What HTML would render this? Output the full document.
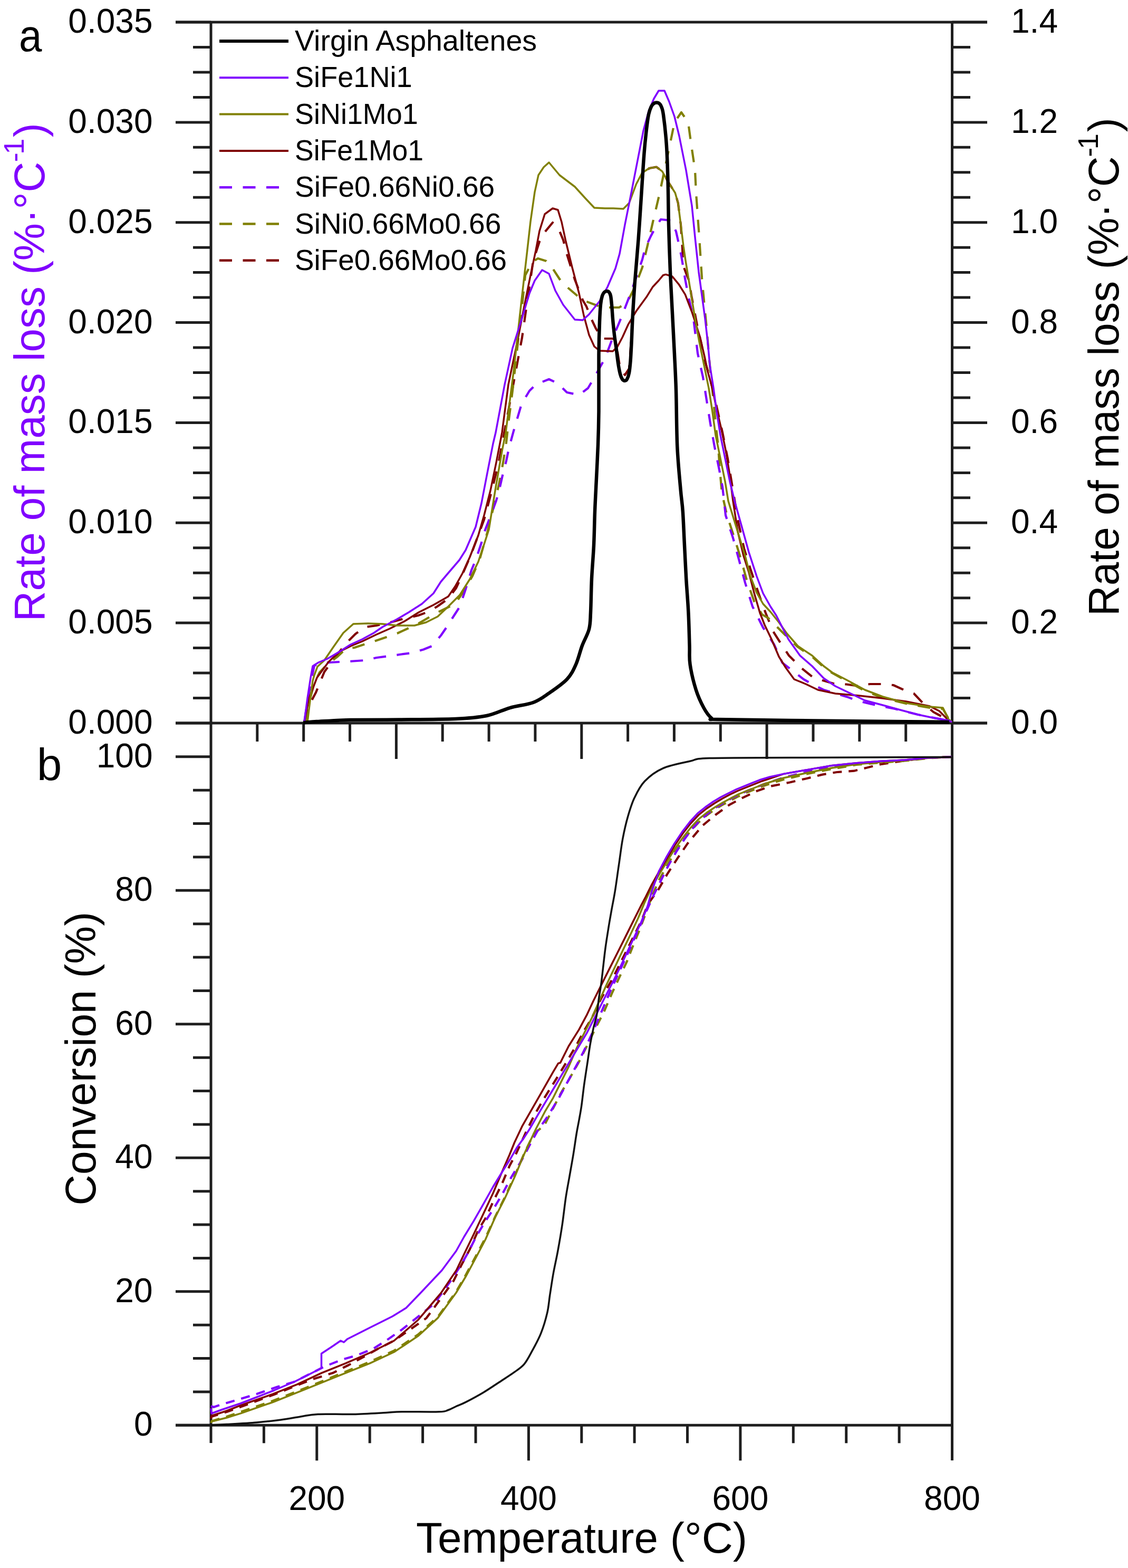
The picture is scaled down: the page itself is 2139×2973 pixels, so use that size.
<!DOCTYPE html>
<html><head><meta charset="utf-8"><title>Figure</title>
<style>html,body{margin:0;padding:0;background:#fff;}svg{display:block;filter:blur(0.6px);}</style></head>
<body>
<svg width="2139" height="2973" viewBox="0 0 2139 2973" font-family='"Liberation Sans", Arial, sans-serif'><line x1="400.0" y1="42.0" x2="400.0" y2="2736.0" stroke="#1e1e1e" stroke-width="5"/>
<line x1="1805.5" y1="42.0" x2="1805.5" y2="2769.0" stroke="#1e1e1e" stroke-width="5"/>
<line x1="333.0" y1="42.0" x2="1872.0" y2="42.0" stroke="#1e1e1e" stroke-width="5"/>
<line x1="333.0" y1="1371.0" x2="1872.0" y2="1371.0" stroke="#1e1e1e" stroke-width="5"/>
<line x1="333.0" y1="2702.3" x2="1805.5" y2="2702.3" stroke="#1e1e1e" stroke-width="5"/>
<line x1="333.0" y1="42.0" x2="400.0" y2="42.0" stroke="#1e1e1e" stroke-width="5"/>
<line x1="1805.5" y1="42.0" x2="1872.0" y2="42.0" stroke="#1e1e1e" stroke-width="5"/>
<line x1="366.0" y1="89.5" x2="400.0" y2="89.5" stroke="#1e1e1e" stroke-width="5"/>
<line x1="1805.5" y1="89.5" x2="1840.0" y2="89.5" stroke="#1e1e1e" stroke-width="5"/>
<line x1="366.0" y1="136.9" x2="400.0" y2="136.9" stroke="#1e1e1e" stroke-width="5"/>
<line x1="1805.5" y1="136.9" x2="1840.0" y2="136.9" stroke="#1e1e1e" stroke-width="5"/>
<line x1="366.0" y1="184.4" x2="400.0" y2="184.4" stroke="#1e1e1e" stroke-width="5"/>
<line x1="1805.5" y1="184.4" x2="1840.0" y2="184.4" stroke="#1e1e1e" stroke-width="5"/>
<line x1="333.0" y1="231.9" x2="400.0" y2="231.9" stroke="#1e1e1e" stroke-width="5"/>
<line x1="1805.5" y1="231.9" x2="1872.0" y2="231.9" stroke="#1e1e1e" stroke-width="5"/>
<line x1="366.0" y1="279.3" x2="400.0" y2="279.3" stroke="#1e1e1e" stroke-width="5"/>
<line x1="1805.5" y1="279.3" x2="1840.0" y2="279.3" stroke="#1e1e1e" stroke-width="5"/>
<line x1="366.0" y1="326.8" x2="400.0" y2="326.8" stroke="#1e1e1e" stroke-width="5"/>
<line x1="1805.5" y1="326.8" x2="1840.0" y2="326.8" stroke="#1e1e1e" stroke-width="5"/>
<line x1="366.0" y1="374.2" x2="400.0" y2="374.2" stroke="#1e1e1e" stroke-width="5"/>
<line x1="1805.5" y1="374.2" x2="1840.0" y2="374.2" stroke="#1e1e1e" stroke-width="5"/>
<line x1="333.0" y1="421.7" x2="400.0" y2="421.7" stroke="#1e1e1e" stroke-width="5"/>
<line x1="1805.5" y1="421.7" x2="1872.0" y2="421.7" stroke="#1e1e1e" stroke-width="5"/>
<line x1="366.0" y1="469.2" x2="400.0" y2="469.2" stroke="#1e1e1e" stroke-width="5"/>
<line x1="1805.5" y1="469.2" x2="1840.0" y2="469.2" stroke="#1e1e1e" stroke-width="5"/>
<line x1="366.0" y1="516.6" x2="400.0" y2="516.6" stroke="#1e1e1e" stroke-width="5"/>
<line x1="1805.5" y1="516.6" x2="1840.0" y2="516.6" stroke="#1e1e1e" stroke-width="5"/>
<line x1="366.0" y1="564.1" x2="400.0" y2="564.1" stroke="#1e1e1e" stroke-width="5"/>
<line x1="1805.5" y1="564.1" x2="1840.0" y2="564.1" stroke="#1e1e1e" stroke-width="5"/>
<line x1="333.0" y1="611.6" x2="400.0" y2="611.6" stroke="#1e1e1e" stroke-width="5"/>
<line x1="1805.5" y1="611.6" x2="1872.0" y2="611.6" stroke="#1e1e1e" stroke-width="5"/>
<line x1="366.0" y1="659.0" x2="400.0" y2="659.0" stroke="#1e1e1e" stroke-width="5"/>
<line x1="1805.5" y1="659.0" x2="1840.0" y2="659.0" stroke="#1e1e1e" stroke-width="5"/>
<line x1="366.0" y1="706.5" x2="400.0" y2="706.5" stroke="#1e1e1e" stroke-width="5"/>
<line x1="1805.5" y1="706.5" x2="1840.0" y2="706.5" stroke="#1e1e1e" stroke-width="5"/>
<line x1="366.0" y1="754.0" x2="400.0" y2="754.0" stroke="#1e1e1e" stroke-width="5"/>
<line x1="1805.5" y1="754.0" x2="1840.0" y2="754.0" stroke="#1e1e1e" stroke-width="5"/>
<line x1="333.0" y1="801.4" x2="400.0" y2="801.4" stroke="#1e1e1e" stroke-width="5"/>
<line x1="1805.5" y1="801.4" x2="1872.0" y2="801.4" stroke="#1e1e1e" stroke-width="5"/>
<line x1="366.0" y1="848.9" x2="400.0" y2="848.9" stroke="#1e1e1e" stroke-width="5"/>
<line x1="1805.5" y1="848.9" x2="1840.0" y2="848.9" stroke="#1e1e1e" stroke-width="5"/>
<line x1="366.0" y1="896.4" x2="400.0" y2="896.4" stroke="#1e1e1e" stroke-width="5"/>
<line x1="1805.5" y1="896.4" x2="1840.0" y2="896.4" stroke="#1e1e1e" stroke-width="5"/>
<line x1="366.0" y1="943.8" x2="400.0" y2="943.8" stroke="#1e1e1e" stroke-width="5"/>
<line x1="1805.5" y1="943.8" x2="1840.0" y2="943.8" stroke="#1e1e1e" stroke-width="5"/>
<line x1="333.0" y1="991.3" x2="400.0" y2="991.3" stroke="#1e1e1e" stroke-width="5"/>
<line x1="1805.5" y1="991.3" x2="1872.0" y2="991.3" stroke="#1e1e1e" stroke-width="5"/>
<line x1="366.0" y1="1038.8" x2="400.0" y2="1038.8" stroke="#1e1e1e" stroke-width="5"/>
<line x1="1805.5" y1="1038.8" x2="1840.0" y2="1038.8" stroke="#1e1e1e" stroke-width="5"/>
<line x1="366.0" y1="1086.2" x2="400.0" y2="1086.2" stroke="#1e1e1e" stroke-width="5"/>
<line x1="1805.5" y1="1086.2" x2="1840.0" y2="1086.2" stroke="#1e1e1e" stroke-width="5"/>
<line x1="366.0" y1="1133.7" x2="400.0" y2="1133.7" stroke="#1e1e1e" stroke-width="5"/>
<line x1="1805.5" y1="1133.7" x2="1840.0" y2="1133.7" stroke="#1e1e1e" stroke-width="5"/>
<line x1="333.0" y1="1181.1" x2="400.0" y2="1181.1" stroke="#1e1e1e" stroke-width="5"/>
<line x1="1805.5" y1="1181.1" x2="1872.0" y2="1181.1" stroke="#1e1e1e" stroke-width="5"/>
<line x1="366.0" y1="1228.6" x2="400.0" y2="1228.6" stroke="#1e1e1e" stroke-width="5"/>
<line x1="1805.5" y1="1228.6" x2="1840.0" y2="1228.6" stroke="#1e1e1e" stroke-width="5"/>
<line x1="366.0" y1="1276.1" x2="400.0" y2="1276.1" stroke="#1e1e1e" stroke-width="5"/>
<line x1="1805.5" y1="1276.1" x2="1840.0" y2="1276.1" stroke="#1e1e1e" stroke-width="5"/>
<line x1="366.0" y1="1323.5" x2="400.0" y2="1323.5" stroke="#1e1e1e" stroke-width="5"/>
<line x1="1805.5" y1="1323.5" x2="1840.0" y2="1323.5" stroke="#1e1e1e" stroke-width="5"/>
<line x1="333.0" y1="1371.0" x2="400.0" y2="1371.0" stroke="#1e1e1e" stroke-width="5"/>
<line x1="1805.5" y1="1371.0" x2="1872.0" y2="1371.0" stroke="#1e1e1e" stroke-width="5"/>
<text x="289.5" y="62.0" text-anchor="end" font-size="64" fill="#000" >0.035</text>
<text x="1917.0" y="62.0" text-anchor="start" font-size="64" fill="#000" >1.4</text>
<text x="289.5" y="251.9" text-anchor="end" font-size="64" fill="#000" >0.030</text>
<text x="1917.0" y="251.9" text-anchor="start" font-size="64" fill="#000" >1.2</text>
<text x="289.5" y="441.7" text-anchor="end" font-size="64" fill="#000" >0.025</text>
<text x="1917.0" y="441.7" text-anchor="start" font-size="64" fill="#000" >1.0</text>
<text x="289.5" y="631.6" text-anchor="end" font-size="64" fill="#000" >0.020</text>
<text x="1917.0" y="631.6" text-anchor="start" font-size="64" fill="#000" >0.8</text>
<text x="289.5" y="821.4" text-anchor="end" font-size="64" fill="#000" >0.015</text>
<text x="1917.0" y="821.4" text-anchor="start" font-size="64" fill="#000" >0.6</text>
<text x="289.5" y="1011.3" text-anchor="end" font-size="64" fill="#000" >0.010</text>
<text x="1917.0" y="1011.3" text-anchor="start" font-size="64" fill="#000" >0.4</text>
<text x="289.5" y="1201.1" text-anchor="end" font-size="64" fill="#000" >0.005</text>
<text x="1917.0" y="1201.1" text-anchor="start" font-size="64" fill="#000" >0.2</text>
<text x="289.5" y="1391.0" text-anchor="end" font-size="64" fill="#000" >0.000</text>
<text x="1917.0" y="1391.0" text-anchor="start" font-size="64" fill="#000" >0.0</text>
<line x1="487.8" y1="1371.0" x2="487.8" y2="1406.0" stroke="#1e1e1e" stroke-width="5"/>
<line x1="575.7" y1="1371.0" x2="575.7" y2="1406.0" stroke="#1e1e1e" stroke-width="5"/>
<line x1="663.5" y1="1371.0" x2="663.5" y2="1406.0" stroke="#1e1e1e" stroke-width="5"/>
<line x1="751.4" y1="1371.0" x2="751.4" y2="1439.0" stroke="#1e1e1e" stroke-width="5"/>
<line x1="839.2" y1="1371.0" x2="839.2" y2="1406.0" stroke="#1e1e1e" stroke-width="5"/>
<line x1="927.1" y1="1371.0" x2="927.1" y2="1406.0" stroke="#1e1e1e" stroke-width="5"/>
<line x1="1014.9" y1="1371.0" x2="1014.9" y2="1406.0" stroke="#1e1e1e" stroke-width="5"/>
<line x1="1102.8" y1="1371.0" x2="1102.8" y2="1439.0" stroke="#1e1e1e" stroke-width="5"/>
<line x1="1190.6" y1="1371.0" x2="1190.6" y2="1406.0" stroke="#1e1e1e" stroke-width="5"/>
<line x1="1278.4" y1="1371.0" x2="1278.4" y2="1406.0" stroke="#1e1e1e" stroke-width="5"/>
<line x1="1366.3" y1="1371.0" x2="1366.3" y2="1406.0" stroke="#1e1e1e" stroke-width="5"/>
<line x1="1454.1" y1="1371.0" x2="1454.1" y2="1439.0" stroke="#1e1e1e" stroke-width="5"/>
<line x1="1542.0" y1="1371.0" x2="1542.0" y2="1406.0" stroke="#1e1e1e" stroke-width="5"/>
<line x1="1629.8" y1="1371.0" x2="1629.8" y2="1406.0" stroke="#1e1e1e" stroke-width="5"/>
<line x1="1717.7" y1="1371.0" x2="1717.7" y2="1406.0" stroke="#1e1e1e" stroke-width="5"/>
<line x1="333.0" y1="2702.3" x2="400.0" y2="2702.3" stroke="#1e1e1e" stroke-width="5"/>
<line x1="366.0" y1="2638.9" x2="400.0" y2="2638.9" stroke="#1e1e1e" stroke-width="5"/>
<line x1="366.0" y1="2575.6" x2="400.0" y2="2575.6" stroke="#1e1e1e" stroke-width="5"/>
<line x1="366.0" y1="2512.2" x2="400.0" y2="2512.2" stroke="#1e1e1e" stroke-width="5"/>
<line x1="333.0" y1="2448.8" x2="400.0" y2="2448.8" stroke="#1e1e1e" stroke-width="5"/>
<line x1="366.0" y1="2385.4" x2="400.0" y2="2385.4" stroke="#1e1e1e" stroke-width="5"/>
<line x1="366.0" y1="2322.1" x2="400.0" y2="2322.1" stroke="#1e1e1e" stroke-width="5"/>
<line x1="366.0" y1="2258.7" x2="400.0" y2="2258.7" stroke="#1e1e1e" stroke-width="5"/>
<line x1="333.0" y1="2195.3" x2="400.0" y2="2195.3" stroke="#1e1e1e" stroke-width="5"/>
<line x1="366.0" y1="2131.9" x2="400.0" y2="2131.9" stroke="#1e1e1e" stroke-width="5"/>
<line x1="366.0" y1="2068.6" x2="400.0" y2="2068.6" stroke="#1e1e1e" stroke-width="5"/>
<line x1="366.0" y1="2005.2" x2="400.0" y2="2005.2" stroke="#1e1e1e" stroke-width="5"/>
<line x1="333.0" y1="1941.8" x2="400.0" y2="1941.8" stroke="#1e1e1e" stroke-width="5"/>
<line x1="366.0" y1="1878.4" x2="400.0" y2="1878.4" stroke="#1e1e1e" stroke-width="5"/>
<line x1="366.0" y1="1815.0" x2="400.0" y2="1815.0" stroke="#1e1e1e" stroke-width="5"/>
<line x1="366.0" y1="1751.7" x2="400.0" y2="1751.7" stroke="#1e1e1e" stroke-width="5"/>
<line x1="333.0" y1="1688.3" x2="400.0" y2="1688.3" stroke="#1e1e1e" stroke-width="5"/>
<line x1="366.0" y1="1624.9" x2="400.0" y2="1624.9" stroke="#1e1e1e" stroke-width="5"/>
<line x1="366.0" y1="1561.5" x2="400.0" y2="1561.5" stroke="#1e1e1e" stroke-width="5"/>
<line x1="366.0" y1="1498.2" x2="400.0" y2="1498.2" stroke="#1e1e1e" stroke-width="5"/>
<line x1="333.0" y1="1434.8" x2="400.0" y2="1434.8" stroke="#1e1e1e" stroke-width="5"/>
<text x="289.5" y="2722.3" text-anchor="end" font-size="64" fill="#000" >0</text>
<text x="289.5" y="2468.8" text-anchor="end" font-size="64" fill="#000" >20</text>
<text x="289.5" y="2215.3" text-anchor="end" font-size="64" fill="#000" >40</text>
<text x="289.5" y="1961.8" text-anchor="end" font-size="64" fill="#000" >60</text>
<text x="289.5" y="1708.3" text-anchor="end" font-size="64" fill="#000" >80</text>
<text x="289.5" y="1454.8" text-anchor="end" font-size="64" fill="#000" >100</text>
<line x1="500.4" y1="2702.3" x2="500.4" y2="2736.3" stroke="#1e1e1e" stroke-width="5"/>
<line x1="600.8" y1="2702.3" x2="600.8" y2="2769.3" stroke="#1e1e1e" stroke-width="5"/>
<line x1="701.2" y1="2702.3" x2="701.2" y2="2736.3" stroke="#1e1e1e" stroke-width="5"/>
<line x1="801.6" y1="2702.3" x2="801.6" y2="2736.3" stroke="#1e1e1e" stroke-width="5"/>
<line x1="902.0" y1="2702.3" x2="902.0" y2="2736.3" stroke="#1e1e1e" stroke-width="5"/>
<line x1="1002.4" y1="2702.3" x2="1002.4" y2="2769.3" stroke="#1e1e1e" stroke-width="5"/>
<line x1="1102.8" y1="2702.3" x2="1102.8" y2="2736.3" stroke="#1e1e1e" stroke-width="5"/>
<line x1="1203.1" y1="2702.3" x2="1203.1" y2="2736.3" stroke="#1e1e1e" stroke-width="5"/>
<line x1="1303.5" y1="2702.3" x2="1303.5" y2="2736.3" stroke="#1e1e1e" stroke-width="5"/>
<line x1="1403.9" y1="2702.3" x2="1403.9" y2="2769.3" stroke="#1e1e1e" stroke-width="5"/>
<line x1="1504.3" y1="2702.3" x2="1504.3" y2="2736.3" stroke="#1e1e1e" stroke-width="5"/>
<line x1="1604.7" y1="2702.3" x2="1604.7" y2="2736.3" stroke="#1e1e1e" stroke-width="5"/>
<line x1="1705.1" y1="2702.3" x2="1705.1" y2="2736.3" stroke="#1e1e1e" stroke-width="5"/>
<text x="600.8" y="2863.0" text-anchor="middle" font-size="64" fill="#000" >200</text>
<text x="1002.4" y="2863.0" text-anchor="middle" font-size="64" fill="#000" >400</text>
<text x="1403.9" y="2863.0" text-anchor="middle" font-size="64" fill="#000" >600</text>
<text x="1805.5" y="2863.0" text-anchor="middle" font-size="64" fill="#000" >800</text>
<text x="789" y="2944" font-size="81.5" textLength="628" lengthAdjust="spacingAndGlyphs" fill="#000">Temperature (°C)</text>
<text transform="translate(180.5,2285.6) rotate(-90)" font-size="81.5" textLength="556.7" lengthAdjust="spacingAndGlyphs" fill="#000">Conversion (%)</text>
<text transform="translate(83.5,1178.2) rotate(-90)" font-size="81.5" textLength="871.4" lengthAdjust="spacingAndGlyphs" fill="#8000ff">Rate of mass loss (%·°C</text>
<text transform="translate(45.0,307.2) rotate(-90)" font-size="54" fill="#8000ff">-</text>
<text transform="translate(45.0,292.7) rotate(-90)" font-size="54" fill="#8000ff">1</text>
<text transform="translate(83.5,260.3) rotate(-90)" font-size="81.5" fill="#8000ff">)</text>
<text transform="translate(2120.5,1168.1) rotate(-90)" font-size="81.5" textLength="871.7" lengthAdjust="spacingAndGlyphs" fill="#000">Rate of mass loss (%·°C</text>
<text transform="translate(2082.0,297.7) rotate(-90)" font-size="54" fill="#000">-</text>
<text transform="translate(2082.0,283.3) rotate(-90)" font-size="54" fill="#000">1</text>
<text transform="translate(2120.5,250.3) rotate(-90)" font-size="81.5" fill="#000">)</text>
<text transform="translate(36,97) scale(0.92,1)" font-size="85" fill="#000">a</text>
<text x="70.0" y="1479.0" text-anchor="start" font-size="85" fill="#000" >b</text>
<line x1="416" y1="78.0" x2="547" y2="78.0" stroke="#000" stroke-width="6"/>
<text x="559.0" y="96.0" text-anchor="start" font-size="55" fill="#000" textLength="459.1" lengthAdjust="spacingAndGlyphs">Virgin Asphaltenes</text>
<line x1="416" y1="147.3" x2="547" y2="147.3" stroke="#8000ff" stroke-width="4"/>
<text x="559.0" y="165.3" text-anchor="start" font-size="55" fill="#000" textLength="222.7" lengthAdjust="spacingAndGlyphs">SiFe1Ni1</text>
<line x1="416" y1="216.6" x2="547" y2="216.6" stroke="#808000" stroke-width="4"/>
<text x="559.0" y="234.6" text-anchor="start" font-size="55" fill="#000" textLength="233.8" lengthAdjust="spacingAndGlyphs">SiNi1Mo1</text>
<line x1="416" y1="285.9" x2="547" y2="285.9" stroke="#800000" stroke-width="4"/>
<text x="559.0" y="303.9" text-anchor="start" font-size="55" fill="#000" textLength="244.1" lengthAdjust="spacingAndGlyphs">SiFe1Mo1</text>
<line x1="416" y1="355.2" x2="547" y2="355.2" stroke="#8000ff" stroke-width="4.5" stroke-dasharray="24 20.5"/>
<text x="559.0" y="373.2" text-anchor="start" font-size="55" fill="#000" textLength="379.1" lengthAdjust="spacingAndGlyphs">SiFe0.66Ni0.66</text>
<line x1="416" y1="424.5" x2="547" y2="424.5" stroke="#808000" stroke-width="4.5" stroke-dasharray="24 20.5"/>
<text x="559.0" y="442.5" text-anchor="start" font-size="55" fill="#000" textLength="391.3" lengthAdjust="spacingAndGlyphs">SiNi0.66Mo0.66</text>
<line x1="416" y1="493.8" x2="547" y2="493.8" stroke="#800000" stroke-width="4.5" stroke-dasharray="24 20.5"/>
<text x="559.0" y="511.8" text-anchor="start" font-size="55" fill="#000" textLength="402.1" lengthAdjust="spacingAndGlyphs">SiFe0.66Mo0.66</text>
<polyline points="577.0,1369.0 590.0,1330.0 599.0,1313.0 615.0,1274.0 640.0,1240.0 662.0,1214.0 674.0,1202.0 692.0,1189.0 714.0,1186.0 740.0,1180.0 770.0,1172.0 793.0,1167.0 812.0,1160.0 829.0,1150.0 850.0,1135.0 865.0,1115.0 880.0,1082.0 893.0,1052.0 905.0,1020.0 918.0,985.0 930.0,940.0 945.0,880.0 960.0,800.0 975.0,720.0 990.0,640.0 1000.0,570.0 1011.0,495.0 1023.0,458.0 1033.0,440.0 1048.0,422.0 1061.0,438.0 1068.0,455.0 1075.0,482.0 1090.0,530.0 1105.0,569.0 1112.0,581.0 1122.0,606.0 1130.0,623.0 1142.0,642.0 1160.0,642.0 1166.0,643.0 1169.0,655.0 1176.0,699.0 1185.0,711.0 1193.0,699.0 1196.0,658.0 1200.0,590.0 1204.0,535.0 1211.0,453.0 1216.0,371.0 1219.0,331.0 1231.0,319.0 1244.8,316.6 1255.7,324.8 1266.6,344.0 1280.3,365.8 1285.8,385.0 1291.0,426.0 1294.0,470.0 1295.0,502.0 1301.0,518.0 1307.0,533.0 1311.0,560.0 1318.0,596.0 1324.0,627.0 1330.0,652.0 1336.0,682.0 1343.0,706.0 1352.0,740.0 1361.0,780.0 1370.0,820.0 1380.0,870.0 1390.0,930.0 1400.0,990.0 1411.0,1040.0 1422.6,1077.5 1438.0,1123.8 1451.9,1162.3 1466.0,1197.0 1480.0,1219.0 1496.0,1243.0 1520.0,1267.0 1540.0,1283.0 1560.0,1290.0 1582.0,1296.5 1605.0,1297.5 1627.0,1300.5 1650.0,1297.0 1671.0,1297.0 1694.0,1299.0 1714.0,1308.0 1733.0,1315.0 1750.0,1333.0 1770.0,1350.0 1805.0,1369.0" fill="none" stroke="#800000" stroke-width="4.2" stroke-linejoin="round" stroke-dasharray="24 20.5"/>
<polyline points="580.0,1369.0 588.0,1325.0 596.0,1295.0 606.0,1275.0 620.0,1260.0 640.0,1245.0 656.0,1230.0 672.0,1228.0 690.0,1222.0 709.0,1216.0 753.0,1201.0 792.0,1183.0 830.0,1161.0 863.0,1145.0 880.0,1120.0 896.0,1092.0 910.0,1059.0 924.0,1010.0 935.0,965.0 946.0,919.0 954.0,877.0 960.0,839.0 964.0,803.0 972.0,740.0 982.0,650.0 990.0,580.0 996.0,522.0 1009.0,497.0 1020.0,490.0 1036.0,495.0 1048.0,509.0 1063.0,532.0 1075.0,544.0 1095.0,561.0 1110.0,571.0 1137.0,581.0 1152.0,583.0 1174.0,583.0 1189.0,574.0 1204.0,544.0 1218.0,507.0 1228.0,465.0 1238.0,421.0 1251.0,366.0 1261.0,318.0 1271.0,271.0 1279.0,232.0 1292.0,213.0 1305.0,232.0 1310.0,269.0 1318.0,323.0 1320.0,366.0 1323.0,409.0 1326.0,450.0 1331.0,527.0 1335.0,571.0 1340.0,622.0 1344.0,670.0 1348.0,714.0 1353.0,759.0 1357.0,803.0 1362.0,847.0 1365.0,891.0 1369.0,935.0 1378.0,975.0 1392.0,1018.0 1405.0,1060.0 1416.0,1100.0 1430.0,1140.0 1445.0,1165.0 1457.0,1172.0 1472.0,1187.0 1490.0,1205.0 1512.0,1226.0 1540.0,1245.0 1562.0,1265.0 1578.0,1276.0 1607.0,1292.0 1640.0,1310.0 1674.0,1323.0 1718.0,1334.0 1763.0,1342.0 1788.0,1344.0 1800.0,1365.0 1805.0,1369.0" fill="none" stroke="#808000" stroke-width="4.2" stroke-linejoin="round" stroke-dasharray="24 20.5"/>
<polyline points="577.0,1369.0 583.0,1330.0 590.0,1290.0 596.0,1262.0 610.0,1257.0 626.0,1256.0 670.0,1253.5 692.0,1252.0 714.0,1247.0 737.0,1244.0 758.0,1241.0 781.0,1238.0 803.0,1231.5 819.0,1225.0 836.0,1205.0 847.0,1189.0 863.0,1164.0 872.0,1150.0 883.0,1117.0 894.0,1081.0 902.0,1062.0 913.0,1029.0 918.0,1010.0 930.0,979.0 941.0,949.0 946.0,932.0 954.0,897.0 960.0,874.0 965.0,850.0 974.0,817.0 989.0,766.0 1004.0,741.0 1016.0,729.0 1041.0,719.0 1058.0,727.0 1075.0,744.0 1098.0,749.0 1115.0,736.0 1125.0,719.0 1147.0,680.0 1162.0,640.0 1172.0,617.0 1179.0,600.0 1192.0,566.0 1196.0,556.0 1218.0,492.0 1223.0,472.0 1234.0,448.0 1243.0,431.0 1253.0,416.0 1273.0,418.0 1282.0,439.0 1286.0,457.0 1292.0,485.0 1299.0,528.0 1305.0,560.0 1315.0,604.0 1323.0,670.0 1333.0,715.0 1340.0,759.0 1347.0,803.0 1355.0,847.0 1364.0,891.0 1370.0,923.0 1376.0,977.0 1390.0,1020.0 1402.0,1064.0 1413.0,1105.0 1427.0,1150.0 1447.0,1190.0 1468.0,1222.0 1483.5,1256.6 1503.7,1272.2 1523.8,1287.9 1539.5,1296.8 1561.8,1308.0 1584.2,1314.7 1606.6,1321.4 1624.5,1328.1 1651.3,1334.8 1696.0,1343.8 1740.8,1355.0 1785.5,1363.9 1805.0,1369.0" fill="none" stroke="#8000ff" stroke-width="4.2" stroke-linejoin="round" stroke-dasharray="24 20.5"/>
<polyline points="577.0,1369.0 586.0,1324.0 601.0,1285.0 623.0,1255.0 643.0,1236.0 665.0,1225.0 687.0,1216.0 714.0,1203.0 739.0,1192.0 767.0,1178.0 794.0,1161.0 822.0,1147.0 850.0,1131.0 863.0,1112.0 877.0,1087.0 891.0,1056.0 907.0,1015.0 918.0,977.0 930.0,930.0 941.0,877.0 952.0,820.0 964.0,729.0 982.0,643.0 994.0,581.0 1006.0,522.0 1016.0,475.0 1023.0,438.0 1033.0,406.0 1048.0,395.0 1058.0,398.0 1065.0,421.0 1073.0,458.0 1085.0,507.0 1098.0,556.0 1107.0,598.0 1117.0,635.0 1127.0,657.0 1137.0,665.0 1162.0,666.0 1170.6,657.7 1180.4,639.3 1191.5,614.8 1206.2,590.3 1225.8,563.3 1238.0,543.7 1249.0,532.0 1257.6,521.7 1262.5,520.4 1274.8,524.1 1287.0,538.8 1299.3,558.4 1311.6,590.3 1317.7,608.7 1327.5,639.3 1336.0,676.0 1342.0,704.0 1351.0,737.0 1359.0,776.0 1368.0,814.0 1377.0,858.0 1384.0,902.0 1390.0,950.0 1399.0,1008.0 1410.0,1054.0 1420.0,1085.0 1430.0,1124.0 1441.0,1162.0 1450.0,1185.0 1463.0,1212.0 1477.0,1245.0 1490.0,1266.0 1506.0,1288.0 1528.0,1297.0 1551.0,1308.0 1584.0,1315.0 1629.0,1319.0 1674.0,1324.0 1718.0,1330.0 1763.0,1339.0 1781.0,1348.0 1799.0,1366.0 1805.0,1369.0" fill="none" stroke="#800000" stroke-width="3.5" stroke-linejoin="round"/>
<polyline points="583.0,1369.0 588.0,1328.0 593.0,1291.0 596.0,1280.0 602.0,1264.0 615.0,1252.0 632.0,1227.0 651.0,1200.0 670.0,1183.0 698.0,1182.0 725.0,1183.0 753.0,1186.0 786.0,1186.0 808.0,1180.0 830.0,1169.0 850.0,1150.0 872.0,1128.0 891.0,1098.0 907.0,1065.0 918.0,1032.0 927.0,1004.0 940.0,924.0 952.0,855.0 959.0,820.0 974.0,704.0 989.0,569.0 999.0,482.0 1006.0,420.0 1014.0,364.0 1021.0,332.0 1031.0,317.0 1041.0,308.0 1061.0,332.0 1090.0,354.0 1110.0,376.0 1127.0,394.0 1147.0,395.0 1163.0,395.0 1182.0,396.0 1193.0,385.0 1206.5,349.0 1217.5,328.0 1231.0,319.0 1244.8,316.6 1255.7,324.8 1266.6,344.0 1280.3,365.8 1285.8,385.0 1291.0,426.0 1296.0,467.0 1300.0,494.0 1309.0,549.0 1318.0,604.0 1326.0,648.0 1335.0,692.0 1344.0,736.0 1351.0,781.0 1357.0,825.0 1366.0,869.0 1375.0,913.0 1381.0,950.0 1397.0,1002.0 1413.0,1054.0 1423.0,1093.0 1435.0,1124.0 1447.0,1145.0 1461.0,1160.0 1477.0,1180.0 1492.0,1201.0 1513.0,1225.0 1540.0,1243.0 1562.0,1263.0 1578.0,1275.0 1607.0,1290.0 1640.0,1308.0 1674.0,1321.0 1718.0,1333.0 1763.0,1340.0 1788.0,1342.0 1799.0,1364.0 1805.0,1369.0" fill="none" stroke="#808000" stroke-width="3.5" stroke-linejoin="round"/>
<polyline points="577.0,1369.0 583.0,1324.0 589.0,1285.0 593.0,1263.0 604.0,1256.0 621.0,1249.0 643.0,1236.0 665.0,1222.0 687.0,1212.0 709.0,1200.0 725.0,1189.0 753.0,1174.0 775.0,1161.0 800.0,1145.0 822.0,1125.0 836.0,1103.0 847.0,1090.0 871.0,1062.0 883.0,1043.0 902.0,999.0 913.0,954.0 924.0,897.0 935.0,841.0 940.0,820.0 957.0,729.0 972.0,660.0 989.0,606.0 1004.0,556.0 1014.0,532.0 1028.0,512.0 1041.0,519.0 1053.0,551.0 1068.0,578.0 1090.0,606.0 1105.0,607.0 1117.0,596.0 1137.0,571.0 1152.0,544.0 1167.0,509.0 1175.0,481.0 1185.0,426.0 1196.0,371.0 1204.0,330.0 1212.0,289.0 1220.0,248.0 1230.0,211.0 1240.0,187.0 1249.0,172.0 1260.0,172.0 1269.0,193.0 1279.0,221.0 1288.0,258.0 1301.0,323.0 1312.0,390.0 1318.0,450.0 1325.0,516.0 1331.0,560.0 1337.0,604.0 1342.0,648.0 1346.0,692.0 1353.0,736.0 1359.0,781.0 1366.0,825.0 1375.0,869.0 1384.0,913.0 1393.0,950.0 1407.0,1000.0 1420.0,1047.0 1435.0,1093.0 1447.0,1125.0 1461.0,1150.0 1472.0,1167.0 1495.0,1212.0 1517.0,1243.0 1540.0,1263.0 1562.0,1286.0 1584.0,1301.0 1607.0,1312.0 1640.0,1328.0 1674.0,1337.0 1707.0,1346.0 1741.0,1355.0 1774.0,1362.0 1799.0,1366.0 1805.0,1369.0" fill="none" stroke="#8000ff" stroke-width="3.5" stroke-linejoin="round"/>
<path d="M575.0,1370.0 C579.2,1369.7 590.8,1368.6 600.0,1368.0 C609.2,1367.4 619.5,1367.0 630.0,1366.5 C640.5,1366.0 642.0,1365.3 663.0,1365.0 C684.0,1364.7 722.5,1364.8 756.0,1364.5 C789.5,1364.2 836.2,1364.2 864.0,1363.0 C891.8,1361.8 905.8,1360.5 923.0,1357.0 C940.2,1353.5 952.3,1346.2 967.0,1342.0 C981.7,1337.8 998.8,1336.5 1011.0,1332.0 C1023.2,1327.5 1029.3,1322.3 1040.0,1315.0 C1050.7,1307.7 1066.3,1297.2 1075.0,1288.0 C1083.7,1278.8 1087.2,1270.7 1092.0,1260.0 C1096.8,1249.3 1099.8,1235.2 1104.0,1224.0 C1108.2,1212.8 1114.3,1203.5 1117.0,1193.0 C1119.7,1182.5 1119.2,1177.0 1120.0,1161.0 C1120.8,1145.0 1121.0,1118.2 1122.0,1097.0 C1123.0,1075.8 1125.0,1055.2 1126.0,1034.0 C1127.0,1012.8 1127.2,991.2 1128.0,970.0 C1128.8,948.8 1130.0,928.2 1131.0,907.0 C1132.0,885.8 1133.2,864.2 1134.0,843.0 C1134.8,821.8 1135.2,808.5 1135.5,780.0 C1135.8,751.5 1135.2,700.3 1135.5,672.0 C1135.8,643.7 1136.4,625.8 1137.0,610.0 C1137.6,594.2 1138.2,585.2 1139.0,577.0 C1139.8,568.8 1140.8,564.8 1142.0,561.0 C1143.2,557.2 1144.5,555.5 1146.0,554.0 C1147.5,552.5 1149.5,552.0 1151.0,552.0 C1152.5,552.0 1153.8,552.5 1155.0,554.0 C1156.2,555.5 1157.2,557.0 1158.0,561.0 C1158.8,565.0 1159.3,570.7 1160.0,578.0 C1160.7,585.3 1161.2,595.5 1162.0,605.0 C1162.8,614.5 1164.0,626.1 1165.0,635.0 C1166.0,643.9 1167.1,649.5 1168.3,658.3 C1169.5,667.1 1170.7,679.5 1172.0,688.0 C1173.3,696.5 1174.7,703.8 1176.0,709.0 C1177.3,714.2 1178.5,716.8 1180.0,719.0 C1181.5,721.2 1183.2,722.0 1184.7,722.0 C1186.2,722.0 1187.6,721.5 1189.0,719.0 C1190.4,716.5 1191.9,712.8 1193.0,707.0 C1194.1,701.2 1194.8,693.5 1195.6,684.0 C1196.3,674.5 1196.8,664.0 1197.5,650.0 C1198.2,636.0 1198.7,619.1 1199.7,600.0 C1200.8,580.9 1202.0,559.8 1203.8,535.3 C1205.6,510.8 1208.5,480.6 1210.6,453.3 C1212.6,426.0 1214.3,398.6 1216.1,371.3 C1217.9,344.0 1219.9,310.4 1221.6,289.3 C1223.2,268.2 1224.6,257.1 1226.0,245.0 C1227.4,232.9 1228.5,224.2 1230.0,217.0 C1231.5,209.8 1233.3,205.5 1235.0,202.0 C1236.7,198.5 1238.3,197.2 1240.0,196.0 C1241.7,194.8 1243.3,194.5 1245.0,194.5 C1246.7,194.5 1248.5,194.8 1250.0,196.0 C1251.5,197.2 1252.7,198.3 1254.0,202.0 C1255.3,205.7 1256.3,205.7 1258.0,218.0 C1259.7,230.3 1262.5,254.7 1263.9,275.7 C1265.3,296.7 1265.9,318.9 1266.6,344.0 C1267.3,369.1 1267.3,398.7 1268.0,426.0 C1268.7,453.3 1269.6,480.7 1270.7,508.0 C1271.8,535.3 1273.4,562.7 1274.8,590.0 C1276.2,617.3 1277.8,647.0 1279.0,672.0 C1280.2,697.0 1281.1,710.9 1282.0,740.0 C1282.9,769.1 1282.9,815.4 1284.3,846.7 C1285.7,878.0 1288.8,907.5 1290.6,928.0 C1292.3,948.5 1293.6,952.3 1294.8,970.0 C1296.0,987.7 1296.9,1012.8 1298.0,1034.0 C1299.1,1055.2 1300.0,1075.8 1301.2,1097.0 C1302.4,1118.2 1304.4,1139.8 1305.4,1161.0 C1306.5,1182.2 1307.0,1207.5 1307.5,1224.0 C1308.0,1240.5 1306.5,1246.0 1308.6,1260.0 C1310.6,1274.0 1315.5,1294.3 1319.8,1308.0 C1324.1,1321.7 1329.6,1333.0 1334.5,1342.0 C1339.4,1351.0 1345.0,1358.1 1349.2,1361.8 C1353.5,1365.5 1334.9,1363.3 1360.0,1364.0 C1385.1,1364.7 1426.7,1365.2 1500.0,1366.0 C1573.3,1366.8 1750.0,1368.5 1800.0,1369.0" fill="none" stroke="#000" stroke-width="6.5" stroke-linejoin="round"/>
<polyline points="400.0,2690.0 401.0,2686.0 430.0,2677.0 456.3,2667.6 520.0,2644.0 560.0,2628.0 591.1,2615.6 630.9,2603.3 661.5,2588.0 695.2,2569.6 716.7,2557.4 747.3,2542.0 778.0,2520.6 808.6,2499.1 842.3,2453.2 860.0,2428.7 874.6,2399.3 891.2,2368.0 907.6,2331.0 920.6,2310.0 937.1,2274.3 951.8,2244.9 966.5,2209.9 979.4,2186.0 997.8,2145.6 1013.0,2115.0 1029.2,2086.7 1048.8,2055.3 1061.6,2034.7 1076.3,2010.2 1092.9,1981.8 1107.6,1954.3 1122.4,1929.8 1140.0,1893.0 1160.7,1857.2 1175.9,1826.8 1186.1,1806.5 1201.3,1776.1 1216.5,1745.6 1228.8,1714.1 1247.9,1687.6 1265.6,1656.8 1284.7,1627.4 1303.8,1599.4 1331.8,1565.6 1356.8,1545.0 1383.2,1525.9 1408.2,1512.6 1436.2,1499.4 1463.0,1490.4 1497.4,1483.5 1531.9,1475.5 1559.5,1468.6 1587.1,1464.0 1619.2,1461.7 1642.2,1456.0 1669.8,1449.1 1715.7,1442.2 1761.7,1436.4 1798.5,1435.3 1805.0,1435.0" fill="none" stroke="#800000" stroke-width="4.2" stroke-linejoin="round" stroke-dasharray="17 13"/>
<polyline points="400.0,2695.0 430.0,2686.0 456.3,2677.0 517.5,2656.0 578.8,2632.0 640.1,2607.0 701.4,2582.0 747.3,2561.0 793.3,2530.0 830.0,2497.0 865.0,2449.0 884.0,2416.0 902.2,2382.0 920.6,2347.0 939.0,2307.0 957.4,2270.0 975.7,2230.0 994.1,2187.0 1012.0,2150.0 1032.0,2134.0 1048.0,2103.0 1064.0,2072.0 1080.0,2045.0 1098.0,2013.0 1115.0,1979.0 1131.0,1946.0 1145.5,1918.0 1160.7,1882.6 1174.9,1852.1 1188.1,1824.7 1199.2,1796.3 1212.0,1765.0 1224.0,1733.0 1236.0,1700.0 1250.0,1668.0 1265.0,1641.0 1280.0,1616.0 1295.0,1594.0 1310.0,1575.0 1325.0,1559.0 1340.0,1546.0 1355.0,1535.0 1370.0,1526.0 1385.0,1518.0 1400.0,1510.0 1415.0,1503.0 1430.0,1497.0 1445.0,1491.0 1460.0,1486.0 1486.0,1478.0 1532.0,1467.0 1578.0,1458.0 1624.0,1450.0 1670.0,1446.0 1716.0,1442.5 1762.0,1437.5 1798.5,1435.3 1805.0,1435.0" fill="none" stroke="#808000" stroke-width="4.2" stroke-linejoin="round" stroke-dasharray="17 13"/>
<polyline points="400.0,2666.0 405.0,2668.0 419.5,2663.0 456.3,2652.3 486.9,2643.1 526.7,2629.3 557.4,2620.2 615.6,2591.0 646.2,2578.8 676.9,2569.6 707.5,2557.4 732.0,2542.0 762.6,2520.6 793.3,2496.1 823.9,2471.6 854.5,2428.7 874.6,2398.0 889.3,2372.0 902.2,2346.0 918.8,2318.0 937.1,2290.0 953.7,2262.0 970.2,2231.0 988.6,2201.0 1005.0,2170.0 1020.0,2143.0 1037.0,2119.0 1058.0,2085.0 1077.0,2050.0 1096.0,2015.0 1112.0,1983.0 1127.0,1950.0 1142.0,1915.0 1157.0,1880.0 1172.0,1847.0 1187.0,1815.0 1200.0,1786.0 1213.0,1757.0 1226.0,1727.0 1240.0,1696.0 1254.0,1668.0 1268.0,1640.0 1283.0,1614.0 1298.0,1591.0 1313.0,1571.0 1328.0,1555.0 1343.0,1542.0 1358.0,1531.0 1373.0,1522.0 1388.0,1513.0 1403.0,1506.0 1418.0,1499.0 1433.0,1493.0 1448.0,1487.0 1463.0,1482.0 1486.0,1474.0 1532.0,1463.0 1578.0,1454.0 1624.0,1448.0 1670.0,1444.0 1716.0,1441.5 1762.0,1437.0 1798.5,1435.3 1805.0,1435.0" fill="none" stroke="#8000ff" stroke-width="4.2" stroke-linejoin="round" stroke-dasharray="17 13"/>
<polyline points="400.0,2698.0 401.0,2695.2 430.0,2688.0 456.3,2679.9 517.5,2658.5 578.8,2634.0 640.1,2609.4 701.4,2584.9 747.3,2563.5 793.3,2532.8 830.0,2499.1 865.0,2451.0 884.0,2419.0 902.2,2385.0 920.6,2350.0 939.0,2308.0 957.4,2272.0 975.7,2232.0 994.1,2187.9 1000.0,2175.0 1016.5,2140.0 1034.1,2106.3 1048.8,2081.8 1063.5,2052.4 1078.2,2022.9 1092.9,1988.6 1107.6,1959.2 1122.4,1929.8 1135.4,1900.0 1150.6,1866.0 1165.8,1834.0 1181.0,1802.0 1196.0,1771.0 1210.0,1741.0 1222.0,1712.0 1234.0,1686.0 1250.0,1658.0 1265.0,1633.0 1280.0,1609.0 1295.0,1588.0 1310.0,1569.0 1325.0,1553.0 1340.0,1541.0 1355.0,1531.0 1370.0,1522.0 1385.0,1514.0 1400.0,1506.0 1415.0,1500.0 1430.0,1494.0 1445.0,1488.0 1460.0,1483.0 1486.0,1475.0 1532.0,1465.0 1578.0,1456.0 1624.0,1449.0 1670.0,1445.0 1716.0,1442.0 1762.0,1437.0 1798.5,1435.3 1805.0,1435.0" fill="none" stroke="#808000" stroke-width="3.5" stroke-linejoin="round"/>
<polyline points="400.0,2686.0 401.0,2684.5 430.0,2675.0 456.3,2664.6 517.5,2643.1 563.5,2624.8 609.5,2603.3 655.4,2584.9 701.4,2565.0 747.3,2542.0 793.3,2502.2 836.0,2452.0 865.4,2408.5 880.0,2378.0 898.4,2340.0 916.8,2301.0 935.1,2262.0 953.5,2218.4 966.0,2190.0 975.7,2166.0 990.0,2135.7 1009.6,2101.4 1029.2,2067.1 1048.8,2032.7 1058.6,2016.1 1062.5,2015.1 1078.2,1983.7 1097.8,1952.4 1112.5,1924.9 1125.2,1897.8 1140.4,1867.3 1155.6,1836.9 1170.9,1806.5 1186.1,1776.1 1201.3,1745.6 1216.5,1715.2 1224.6,1700.0 1236.0,1677.0 1250.0,1652.0 1265.0,1627.0 1280.0,1602.0 1295.0,1580.0 1310.0,1561.0 1325.0,1545.0 1340.0,1533.0 1355.0,1523.0 1370.0,1514.0 1385.0,1506.0 1400.0,1499.0 1415.0,1493.0 1430.0,1487.0 1445.0,1481.0 1460.0,1476.0 1486.0,1467.4 1532.0,1459.4 1578.0,1451.4 1624.0,1446.8 1670.0,1443.3 1716.0,1441.0 1762.0,1436.4 1798.5,1435.3 1805.0,1435.0" fill="none" stroke="#800000" stroke-width="3.5" stroke-linejoin="round"/>
<polyline points="400.0,2670.0 401.0,2680.0 420.0,2673.0 456.0,2661.0 487.0,2649.0 520.0,2636.0 560.0,2619.0 590.0,2604.0 609.5,2594.0 609.5,2566.5 630.0,2553.0 646.0,2542.0 652.0,2545.0 658.5,2539.0 701.0,2517.5 744.0,2496.0 770.0,2480.0 797.0,2452.0 838.0,2408.5 865.0,2372.0 880.0,2345.0 898.4,2314.9 916.8,2282.7 935.1,2250.0 953.5,2220.0 967.3,2198.0 980.0,2176.0 994.1,2156.6 1004.7,2140.0 1024.3,2106.3 1039.0,2081.8 1054.0,2057.0 1068.4,2032.7 1083.1,2008.2 1097.8,1983.7 1112.5,1959.2 1122.4,1939.6 1130.0,1925.0 1145.0,1895.0 1160.0,1866.0 1175.0,1836.0 1188.0,1808.0 1203.0,1776.0 1216.0,1748.0 1228.0,1718.0 1236.0,1690.0 1249.4,1652.0 1264.1,1624.4 1278.8,1599.4 1293.5,1577.4 1308.2,1558.2 1322.9,1542.1 1337.6,1530.3 1352.4,1520.0 1367.0,1511.2 1381.8,1503.8 1396.5,1496.5 1411.2,1490.6 1425.9,1484.7 1440.6,1478.8 1460.0,1473.0 1486.0,1467.4 1532.0,1459.4 1578.0,1451.4 1624.0,1446.8 1670.0,1443.3 1716.0,1441.0 1762.0,1436.4 1798.5,1435.3 1805.0,1435.0" fill="none" stroke="#8000ff" stroke-width="3.5" stroke-linejoin="round"/>
<path d="M400.0,2702.0 C405.0,2701.8 415.5,2701.3 430.0,2700.5 C444.5,2699.7 469.8,2698.4 487.0,2697.0 C504.2,2695.6 519.2,2693.8 533.0,2692.0 C546.8,2690.2 558.3,2687.8 570.0,2686.0 C581.7,2684.2 586.3,2682.2 603.0,2681.4 C619.7,2680.6 648.5,2681.9 670.0,2681.4 C691.5,2680.9 716.7,2679.2 732.0,2678.4 C747.3,2677.6 745.2,2677.1 762.0,2676.8 C778.8,2676.5 818.3,2677.4 833.0,2676.8 C847.7,2676.2 844.8,2675.1 850.0,2673.5 C855.2,2671.9 858.4,2669.5 864.0,2667.0 C869.6,2664.5 874.7,2662.9 883.5,2658.4 C892.3,2653.9 905.8,2646.7 917.0,2640.0 C928.2,2633.3 940.7,2624.6 950.5,2618.2 C960.3,2611.8 968.4,2606.7 975.7,2601.4 C983.0,2596.1 988.5,2593.1 994.1,2586.4 C999.7,2579.7 1003.9,2571.0 1009.2,2561.2 C1014.5,2551.4 1021.2,2539.7 1025.9,2527.7 C1030.7,2515.7 1034.9,2501.2 1037.7,2489.2 C1040.5,2477.2 1040.8,2468.3 1042.7,2455.7 C1044.7,2443.1 1046.9,2427.8 1049.4,2413.8 C1051.9,2399.8 1055.0,2387.3 1057.8,2371.9 C1060.6,2356.5 1063.8,2338.2 1066.3,2321.2 C1068.8,2304.2 1070.7,2285.2 1073.0,2270.0 C1075.3,2254.8 1077.7,2243.3 1080.0,2230.0 C1082.3,2216.7 1084.8,2203.4 1087.0,2190.0 C1089.2,2176.6 1091.4,2160.4 1093.2,2149.6 C1095.0,2138.8 1096.2,2133.8 1097.8,2125.0 C1099.4,2116.2 1101.1,2107.8 1102.7,2096.5 C1104.3,2085.2 1105.8,2070.4 1107.6,2057.3 C1109.4,2044.2 1111.5,2031.1 1113.5,2018.0 C1115.5,2004.9 1117.4,1990.2 1119.4,1978.8 C1121.4,1967.4 1123.3,1958.4 1125.3,1949.4 C1127.3,1940.4 1129.7,1934.9 1131.5,1925.0 C1133.3,1915.1 1134.5,1900.5 1136.0,1890.0 C1137.5,1879.5 1138.5,1877.1 1140.4,1862.3 C1142.3,1847.5 1145.3,1818.3 1147.5,1801.4 C1149.7,1784.5 1151.6,1773.6 1153.6,1760.9 C1155.6,1748.2 1157.6,1737.2 1159.7,1725.4 C1161.8,1713.6 1163.9,1704.2 1166.2,1690.0 C1168.5,1675.8 1171.0,1656.7 1173.5,1640.0 C1176.0,1623.3 1178.0,1605.3 1180.9,1590.0 C1183.8,1574.7 1187.0,1560.8 1190.7,1548.0 C1194.4,1535.2 1197.6,1524.2 1202.9,1513.1 C1208.2,1502.0 1213.5,1490.7 1222.5,1481.3 C1231.5,1471.9 1242.6,1463.1 1256.9,1456.8 C1271.2,1450.5 1293.6,1446.5 1308.3,1443.3 C1323.0,1440.1 1313.1,1438.6 1345.1,1437.5 C1377.0,1436.4 1423.3,1436.8 1500.0,1436.5 C1576.7,1436.2 1754.2,1435.7 1805.0,1435.5" fill="none" stroke="#111" stroke-width="3.5" stroke-linejoin="round"/></svg>
</body></html>
